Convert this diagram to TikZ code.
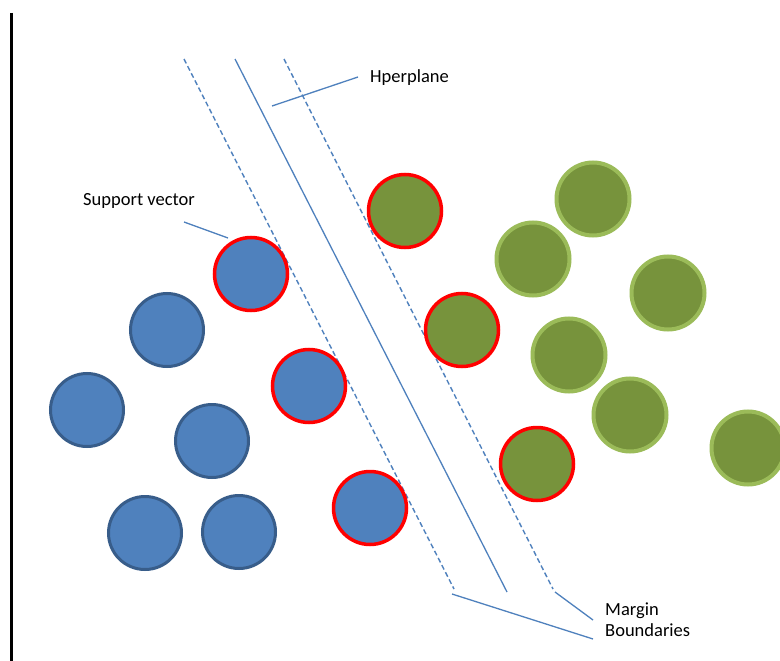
\documentclass[tikz,border=0pt]{standalone}
\usepackage{fontspec}
\setmainfont{Carlito}
\definecolor{ptblue}{HTML}{4F81BD}
\definecolor{ptblueedge}{HTML}{385D8A}
\definecolor{ptgreen}{HTML}{77933C}
\definecolor{ptgreenedge}{HTML}{9BBB59}
\definecolor{svred}{HTML}{FF0000}
\definecolor{lineblue}{HTML}{4F81BD}
\begin{document}
\begin{tikzpicture}[x=1pt,y=-1pt,
  dot/.style={circle, minimum size=73pt, inner sep=0pt, line width=3pt},
  bluept/.style={dot, fill=ptblue, draw=ptblueedge},
  greenpt/.style={dot, fill=ptgreen, draw=ptgreenedge, line width=4pt},
  sv/.style={draw=svred, line width=3.5pt},
  guide/.style={draw=lineblue, line width=1.3pt},
  marginline/.style={guide, line width=1.4pt, dash pattern=on 5pt off 3pt},
  lbl/.style={font=\fontsize{18.5}{22}\selectfont, text=black, inner sep=0pt}
]
\useasboundingbox[fill=white] (0,0) rectangle (780,661);

% left axis bar
\coordinate (axtop) at (11.5,13);
\coordinate (axbot) at (11.5,661);
\draw[line width=3pt, black] (axtop) -- (axbot);

% margin boundaries and separating hyperplane
\coordinate (m1a) at (184,59);  \coordinate (m1b) at (454,589);
\coordinate (hpa) at (235,59);  \coordinate (hpb) at (507,592);
\coordinate (m2a) at (284,59);  \coordinate (m2b) at (553,589);
\draw[marginline] (m1a) -- (m1b);
\draw[guide] (hpa) -- (hpb);
\draw[marginline] (m2a) -- (m2b);

% class A (blue)
\node[bluept] (b1) at (167,330) {};
\node[bluept] (b2) at (87,410) {};
\node[bluept] (b3) at (212,441) {};
\node[bluept] (b4) at (145,533) {};
\node[bluept] (b5) at (239,532) {};
\node[bluept, sv] (bs1) at (251,274) {};
\node[bluept, sv] (bs2) at (309,386) {};
\node[bluept, sv] (bs3) at (370,508) {};

% class B (green)
\node[greenpt, sv] (gs1) at (405,211) {};
\node[greenpt, sv] (gs2) at (462,330) {};
\node[greenpt, sv] (gs3) at (537,464) {};
\node[greenpt] (g1) at (593,199) {};
\node[greenpt] (g2) at (533,259) {};
\node[greenpt] (g3) at (668,293) {};
\node[greenpt] (g4) at (569,355) {};
\node[greenpt] (g5) at (630,415) {};
\node[greenpt] (g6) at (748,448) {};

% labels
\node[lbl, anchor=base west] (svlbl) at (83,205) {Support vector};
\node[lbl, anchor=base west] (hplbl) at (370,83) {Hperplane};
\node[lbl, anchor=base west, align=left] (mblbl) at (605,636) {Margin\\[-1pt]Boundaries};

% label leaders
\coordinate (svA) at (184,222); \coordinate (svB) at (228,238);
\draw[guide] (svA) -- (svB);
\coordinate (hpA) at (272,106); \coordinate (hpB) at (358,77);
\draw[guide] (hpA) -- (hpB);
\coordinate (mbA) at (452,594); \coordinate (mbB) at (593,639);
\coordinate (mbC) at (555,592); \coordinate (mbD) at (593,620);
\draw[guide] (mbA) -- (mbB);
\draw[guide] (mbC) -- (mbD);
\end{tikzpicture}
\end{document}
